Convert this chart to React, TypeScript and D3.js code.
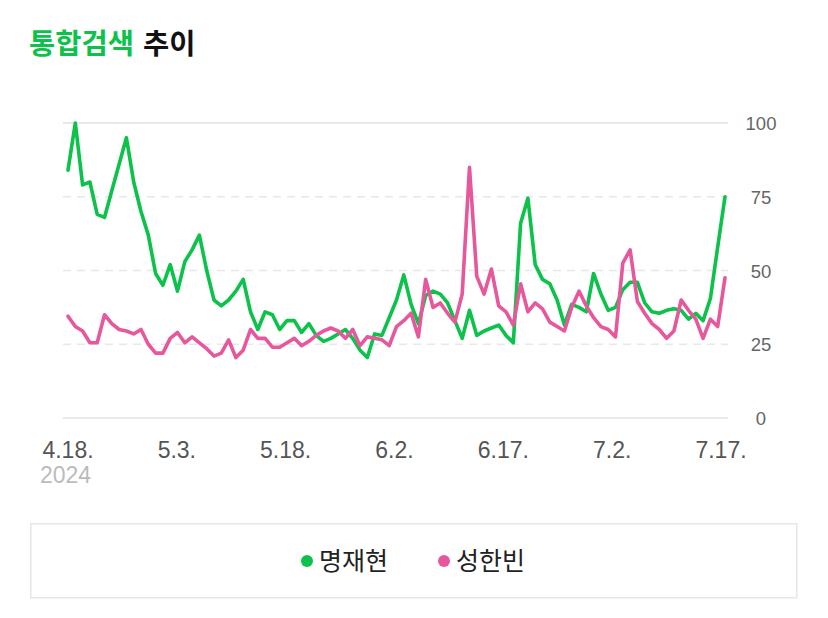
import React from "react";
import * as d3 from "d3";

const seriesNames = ["명재현", "성한빈"];
const seriesColors = ["#0cc24a", "#e6589b"];

const green = [84,100,79,80,69,68,77,86,95,80,70,62,49,45,52,43,53,57,62,50,40,38,40,43,47,36,30,36,35,30,33,33,29,32,28,26,27,28.5,30,27,23,20.5,28.5,28,34,40,48.5,38.5,32,41.5,43,42,39,33,27,36.5,28,29.5,30.5,31.5,28,25.5,66,74.5,52,47,45.5,40,31.5,38.5,37.5,36,49,42,36.5,37.5,43.5,46,46,39,36,35.5,36.5,37,36.5,33.5,35.5,33,40.5,58,75];
const pink = [34.5,31,29.5,25.5,25.5,35,32,30,29.5,28.5,30,25,22,22,27,29,25.5,27.5,25.5,23.5,21,22,26.5,20.5,23,30,27,27,24,24,25.5,27,24.5,26,28,29.5,30.5,29.5,27,30,24.5,27.5,27,26.5,24.5,31,33,35.5,27.5,47,37.5,39,35.5,32.5,42,85,48,42,50.5,38,36,31.5,45.5,36,39,37,32.5,31,29.5,37.5,43,38,34,31,30,27.5,52.5,57,39.5,35.5,32,30,27,29.5,40,36.5,33.5,27,33.5,31,47.5];

const xTickIdx = [0, 15, 30, 45, 60, 75, 90];
const xTickLabels = ["4.18.", "5.3.", "5.18.", "6.2.", "6.17.", "7.2.", "7.17."];
const yTicks = [0, 25, 50, 75, 100];
const yearLabel = "2024";
const titleGreen = "통합검색";
const titleBlack = "추이";

const W = 828;
const H = 618;
const FONT = "'Liberation Sans', Arial, 'Noto Sans CJK KR', sans-serif";
const KFONT = "'Noto Sans CJK KR', 'Liberation Sans', sans-serif";

export default function App() {
  const x = d3.scaleLinear().domain([0, green.length - 1]).range([68, 725]);
  const y = d3.scaleLinear().domain([0, 100]).range([418, 123]);
  const line = d3
    .line<number>()
    .x((_, i) => x(i))
    .y((d) => y(d));
  const data = [green, pink];

  return (
    <svg
      width={W}
      height={H}
      style={{ position: "absolute", left: 0, top: 0, background: "#fff" }}
    >
      <text x={29} y={54} fontFamily={KFONT} fontSize={28.5} fontWeight={700} fill={seriesColors[0]}>
        {titleGreen}
      </text>
      <text x={143} y={54} fontFamily={KFONT} fontSize={28.5} fontWeight={700} fill="#111">
        {titleBlack}
      </text>

      {yTicks.map((t) => (
        <g key={t}>
          <line
            x1={63}
            x2={728}
            y1={y(t)}
            y2={y(t)}
            stroke={t === 0 || t === 100 ? "#e2e2e2" : "#e8e8e8"}
            strokeWidth={1.5}
            strokeDasharray={t === 0 || t === 100 ? undefined : "8 6"}
          />
          <text
            x={761}
            y={y(t) + 7}
            textAnchor="middle"
            fontFamily={FONT}
            fontSize={18.5}
            fill="#666"
          >
            {t}
          </text>
        </g>
      ))}

      {xTickIdx.map((idx, i) => (
        <text
          key={idx}
          x={x(idx) - (i / 6) * 4}
          y={458}
          textAnchor="middle"
          fontFamily={FONT}
          fontSize={23}
          fill="#555"
        >
          {xTickLabels[i]}
        </text>
      ))}
      <text x={40} y={483} fontFamily={FONT} fontSize={23} fill="#bbb">
        {yearLabel}
      </text>

      {data.map((s, k) => (
        <path
          key={k}
          d={line(s) || ""}
          fill="none"
          stroke={seriesColors[k]}
          strokeWidth={3.6}
          strokeLinejoin="round"
          strokeLinecap="round"
        />
      ))}

      <rect
        x={30.75}
        y={523.75}
        width={766}
        height={74}
        fill="#fff"
        stroke="#e6e6e6"
        strokeWidth={1.5}
      />
      {seriesNames.map((n, i) => (
        <g key={n} transform={`translate(${i === 0 ? 307 : 444},561)`}>
          <circle r={6} fill={seriesColors[i]} />
          <text
            x={12}
            y={9}
            fontFamily={KFONT}
            fontSize={25}
            fill="#222"
          >
            {n}
          </text>
        </g>
      ))}
    </svg>
  );
}
